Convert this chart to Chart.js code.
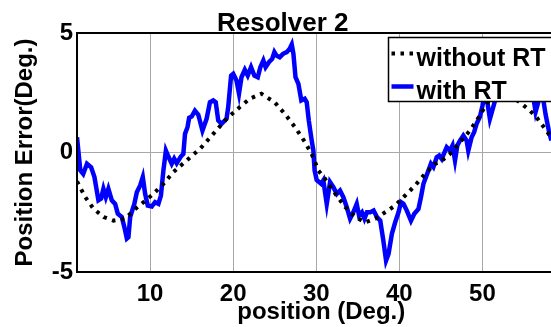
<!DOCTYPE html>
<html>
<head>
<meta charset="utf-8">
<script src="https://cdn.jsdelivr.net/npm/chart.js@4.4.1/dist/chart.umd.min.js"></script>
<style>
  html, body { margin: 0; padding: 0; overflow: hidden; background: #fff; }
  #wrap { width: 646px; height: 327px; }
</style>
</head>
<body>
<div id="wrap"><canvas id="chart" width="646" height="327"></canvas></div>
<script>
// values
const withoutX = [1.2, 2.2, 3.2, 4.4, 5.6, 7.0, 8.0, 9.2, 10.4, 11.6, 12.8, 14.4, 16.0, 17.6, 19.2, 20.8, 22.0, 23.4,
  25.0, 26.2, 27.45, 28.65, 29.45, 30.25, 31.05, 32.3, 33.5, 34.7, 35.9, 37.1, 38.3, 39.5, 40.7, 41.9, 43.1, 44.3,
  44.9, 46.1, 47.3, 48.5, 49.7, 50.5, 51.5, 52.5, 53.5, 54.5, 55.7, 56.5, 57.7, 58.3];
const withoutY = [-1.21, -1.87, -2.36, -2.7, -2.85, -2.77, -2.43, -2.08, -1.73, -1.31, -0.82, -0.33, 0.15, 0.78, 1.41, 1.9, 2.25, 2.46,
  2.1, 1.62, 1.06, 0.43, -0.06, -0.75, -1.1, -1.73, -2.29, -2.7, -2.92, -2.77, -2.5, -2.22, -1.8, -1.38, -0.89, -0.47,
  -0.4, -0.06, 0.43, 0.92, 1.55, 2.04, 2.4, 2.5, 2.35, 2.1, 1.76, 1.48, 0.92, 0.6];

const withX = [1.2, 1.6, 1.95, 2.4, 2.9, 3.3, 3.78, 4.1, 4.38, 4.67, 4.98, 5.39, 5.79, 6.11, 6.59, 6.9, 7.2, 7.39, 7.6,
  8.1, 8.4, 8.8, 9.12, 9.4, 9.72, 10.2, 10.6, 11.0, 11.3, 11.6, 11.9, 12.2, 12.6, 12.9, 13.2, 13.7, 14.0, 14.2, 14.5,
  14.7, 15.0, 15.4, 15.8, 16.3, 16.8, 17.2, 17.6, 17.9, 18.2, 18.6, 19.2, 19.4, 19.75, 20.0, 20.4, 20.7, 21.0, 21.4,
  21.75, 22.15, 22.55, 22.96, 23.27, 23.63, 23.9, 24.3, 24.7, 24.96, 25.2, 25.6, 26.0, 26.45, 26.8, 27.05, 27.25,
  27.5, 27.85, 28.2, 28.6, 28.85, 29.1, 29.45, 29.65, 29.8, 30.05, 30.6, 30.85, 31.26, 31.66, 32.06, 32.47, 32.86,
  33.26, 33.67, 34.07, 34.46, 34.87, 35.15, 35.5, 35.8, 36.1, 36.5, 36.9, 37.3, 37.7, 38.07, 38.4, 38.7, 39.1, 39.5,
  39.9, 40.2, 40.5, 40.9, 41.4, 41.8, 42.3, 42.6, 42.9, 43.2, 43.5, 43.8, 44.1, 44.5, 44.8, 45.1, 45.7, 46.1, 46.4,
  46.7, 46.98, 47.3, 47.7, 48.1, 48.3, 48.7, 49.0, 49.3, 49.7, 50.0, 50.3, 50.6, 50.9, 51.3, 51.7, 52.2, 52.7, 53.2,
  53.7, 54.3, 54.8, 55.4, 56.0, 56.4, 56.8, 57.2, 57.6, 58.0, 58.3];
const withY = [0.64, -0.75, -0.9, -0.47, -0.62, -1.03, -2.0, -1.93, -1.52, -1.87, -1.52, -2.0, -2.15, -2.56, -2.7, -3.12, -3.6, -3.54, -2.7,
  -2.15, -1.66, -1.38, -1.03, -1.73, -2.22, -2.26, -2.08, -2.15, -1.8, -0.75, 0.08, -0.17, -0.47, -0.26, -0.45, -0.17, -0.06, 0.78, 1.06,
  1.45, 1.5, 1.75, 1.58, 0.92, 1.41, 2.1, 2.18, 2.1, 1.34, 1.2, 1.41, 1.9, 3.22, 3.29, 3.01, 2.46, 3.15, 3.46,
  3.22, 3.57, 3.22, 3.15, 3.57, 3.85, 3.57, 3.78, 3.92, 4.2, 4.06, 3.99, 4.13, 4.2, 4.34, 4.52, 4.13,
  3.15, 2.87, 2.18, 2.25, 2.1, 1.34, 0.5, 0.08, -0.75, -1.15, -1.31, -1.17, -2.15, -1.24, -1.45, -1.73, -1.59,
  -1.87, -2.29, -2.77, -2.5, -2.15, -2.64, -2.5, -2.77, -2.5, -2.5, -2.43, -2.7, -2.85, -3.68, -4.52, -4.24, -3.4, -2.92,
  -2.5, -2.08, -2.15, -2.43, -2.85, -2.56, -2.36, -1.87, -1.31, -1.03, -0.75, -0.47, -0.61, -0.2, -0.13, -0.27, 0.22, 0.08, 0.29,
  -0.33, 0.29, 0.5, 0.71, 0.5, 0.08, 0.64, 0.85, 1.2, 1.5, 1.95, 2.5, 2.1, 1.41, 1.9, 2.4, 2.9, 3.3, 2.9,
  3.2, 2.8, 3.1, 2.6, 2.6, 1.7, 2.2, 2.5, 1.6, 0.9, 0.5];

const xTicks = [10, 20, 30, 40, 50];
const yTicks = [-5, 0, 5];
const seriesNames = ['without RT', 'with RT'];

const FONT = "'Liberation Sans', Arial, sans-serif";
Chart.defaults.font.family = FONT;
Chart.defaults.color = '#000';

const toPoints = (xs, ys) => xs.map((x, i) => ({ x: x, y: ys[i] }));

// axes box plus the boxed legend sitting inside the plot (MATLAB style)
const framePlugin = {
  id: 'frame',
  afterDatasetsDraw(chart) {
    const { ctx, chartArea: a } = chart;
    ctx.save();
    ctx.strokeStyle = '#000';
    ctx.lineWidth = 2;
    ctx.strokeRect(a.left, a.top, a.right - a.left, a.bottom - a.top);

    const bx = a.left + 311.5, by = a.top + 4.5;
    ctx.fillStyle = '#fff';
    ctx.fillRect(bx, by, 300, 64);
    ctx.lineWidth = 1.5;
    ctx.strokeRect(bx, by, 300, 64);

    const rows = [
      { y: by + 16, base: by + 28, ds: chart.data.datasets[0] },
      { y: by + 49, base: by + 61, ds: chart.data.datasets[1] }
    ];
    rows.forEach(r => {
      ctx.beginPath();
      ctx.strokeStyle = r.ds.borderColor;
      ctx.lineWidth = r.ds.borderWidth;
      ctx.setLineDash(r.ds.borderDash || []);
      ctx.moveTo(bx + 3, r.y);
      ctx.lineTo(bx + 25, r.y);
      ctx.stroke();
      ctx.setLineDash([]);
      ctx.fillStyle = '#000';
      ctx.font = 'bold 25px ' + FONT;
      ctx.textBaseline = 'alphabetic';
      ctx.fillText(r.ds.label, bx + 28, r.base);
    });
    ctx.restore();
  }
};

new Chart(document.getElementById('chart'), {
  type: 'line',
  data: {
    datasets: [
      {
        label: seriesNames[0],
        data: toPoints(withoutX, withoutY),
        borderColor: '#000',
        borderWidth: 4,
        borderDash: [3.5, 5.5],
        pointRadius: 0,
        tension: 0,
        fill: false
      },
      {
        label: seriesNames[1],
        data: toPoints(withX, withY),
        borderColor: '#0000ff',
        borderWidth: 4.5,
        pointRadius: 0,
        tension: 0,
        fill: false
      }
    ]
  },
  options: {
    responsive: false,
    animation: false,
    devicePixelRatio: 1,
    layout: { padding: { left: 0, right: 80.5, top: 0, bottom: 0 } },
    plugins: {
      legend: { display: false },
      tooltip: { enabled: false },
      title: {
        display: true,
        text: 'Resolver 2',
        color: '#000',
        font: { size: 26, weight: 'bold', lineHeight: 1 },
        padding: { top: 10.5, bottom: -3.5 }
      }
    },
    scales: {
      x: {
        type: 'linear',
        min: 1.2,
        max: 60,
        afterBuildTicks: s => { s.ticks = xTicks.map(v => ({ value: v })); },
        afterFit: s => { s.height = 55; },
        grid: { color: '#a8a8a8', lineWidth: 1, drawTicks: false },
        border: { display: false },
        ticks: { padding: 8, autoSkip: false, maxRotation: 0, font: { size: 24, weight: 'bold' } },
        title: {
          display: true,
          text: 'position (Deg.)',
          font: { size: 24, weight: 'bold', lineHeight: 1.2 },
          padding: { top: 0, bottom: 0 }
        }
      },
      y: {
        min: -5,
        max: 5,
        afterBuildTicks: s => { s.ticks = yTicks.map(v => ({ value: v })); },
        afterFit: s => { s.width = 77; },
        grid: { color: '#a8a8a8', lineWidth: 1, drawTicks: false },
        border: { display: false },
        ticks: { padding: 4, font: { size: 24, weight: 'bold' } },
        title: {
          display: true,
          text: 'Position Error(Deg.)',
          font: { size: 24, weight: 'bold', lineHeight: 1.2 },
          padding: { top: 10.6, bottom: 0 }
        }
      }
    }
  },
  plugins: [framePlugin]
});
</script>
</body>
</html>
